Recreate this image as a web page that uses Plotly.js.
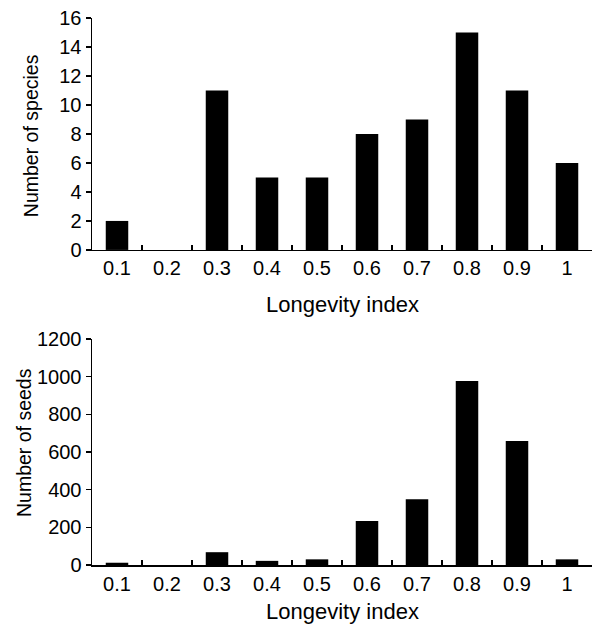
<!DOCTYPE html>
<html>
<head>
<meta charset="utf-8">
<script src="https://cdn.plot.ly/plotly-3.0.1.min.js"></script>
<style>html,body{margin:0;padding:0;background:#fff;}#chart{width:594px;height:625px;}</style>
</head>
<body>
<div id="chart"></div>
<script>
const categories = ["0.1","0.2","0.3","0.4","0.5","0.6","0.7","0.8","0.9","1"];
const speciesCounts = [2, 0, 11, 5, 5, 8, 9, 15, 11, 6];
const seedCounts = [12, 0, 68, 22, 30, 234, 349, 977, 659, 30];
const xTitle = "Longevity index";
const yTitleTop = "Number of species";
const yTitleBottom = "Number of seeds";

const fam = "Liberation Sans, Arial, sans-serif";
const tickFont = {family: fam, size: 20, color: "#000"};
const xTitleFont = {family: fam, size: 22, color: "#000"};
const yTitleFont = {family: fam, size: 19.5, color: "#000"};

const data = [
  {type: "bar", x: categories, y: speciesCounts, xaxis: "x", yaxis: "y",
   width: 0.45, marker: {color: "#000", line: {width: 0}}, hoverinfo: "x+y"},
  {type: "bar", x: categories, y: seedCounts, xaxis: "x2", yaxis: "y2",
   width: 0.45, marker: {color: "#000", line: {width: 0}}, hoverinfo: "x+y"}
];

const xCommon = {
  type: "category", tickson: "boundaries", ticks: "inside", ticklen: 5, tickwidth: 1.5,
  tickcolor: "#000", showline: true, linecolor: "#000", linewidth: 1.5,
  showgrid: false, zeroline: false, range: [-0.5, 9.5], tickfont: tickFont
};
const yCommon = {
  ticks: "outside", ticklen: 5, tickwidth: 1.5, tickcolor: "#000",
  showline: true, linecolor: "#000", linewidth: 1.5, showgrid: false, zeroline: false,
  tickfont: tickFont
};

const layout = {
  width: 594, height: 625,
  margin: {l: 92, r: 2, t: 18, b: 60},
  paper_bgcolor: "#fff", plot_bgcolor: "#fff",
  showlegend: false, font: tickFont, bargap: 0.55,
  xaxis: Object.assign({}, xCommon, {anchor: "y", domain: [0, 1]}),
  yaxis: Object.assign({}, yCommon, {anchor: "x", domain: [0.576, 1], range: [0, 16], dtick: 2}),
  xaxis2: Object.assign({}, xCommon, {anchor: "y2", domain: [0, 1]}),
  yaxis2: Object.assign({}, yCommon, {anchor: "x2", domain: [0, 0.413], range: [0, 1200], dtick: 200}),
  annotations: [
    {text: xTitle, xref: "paper", yref: "paper", x: 0.5, y: 0.477, xanchor: "center", yanchor: "middle",
     showarrow: false, font: xTitleFont},
    {text: xTitle, xref: "paper", yref: "paper", x: 0.5, y: -0.085, xanchor: "center", yanchor: "middle",
     showarrow: false, font: xTitleFont},
    {text: yTitleTop, xref: "paper", yref: "paper", x: -0.122, y: 0.784, xanchor: "center", yanchor: "middle",
     textangle: -90, showarrow: false, font: yTitleFont},
    {text: yTitleBottom, xref: "paper", yref: "paper", x: -0.136, y: 0.223, xanchor: "center", yanchor: "middle",
     textangle: -90, showarrow: false, font: yTitleFont}
  ]
};

Plotly.newPlot("chart", data, layout, {displayModeBar: false, staticPlot: true});
</script>
</body>
</html>
